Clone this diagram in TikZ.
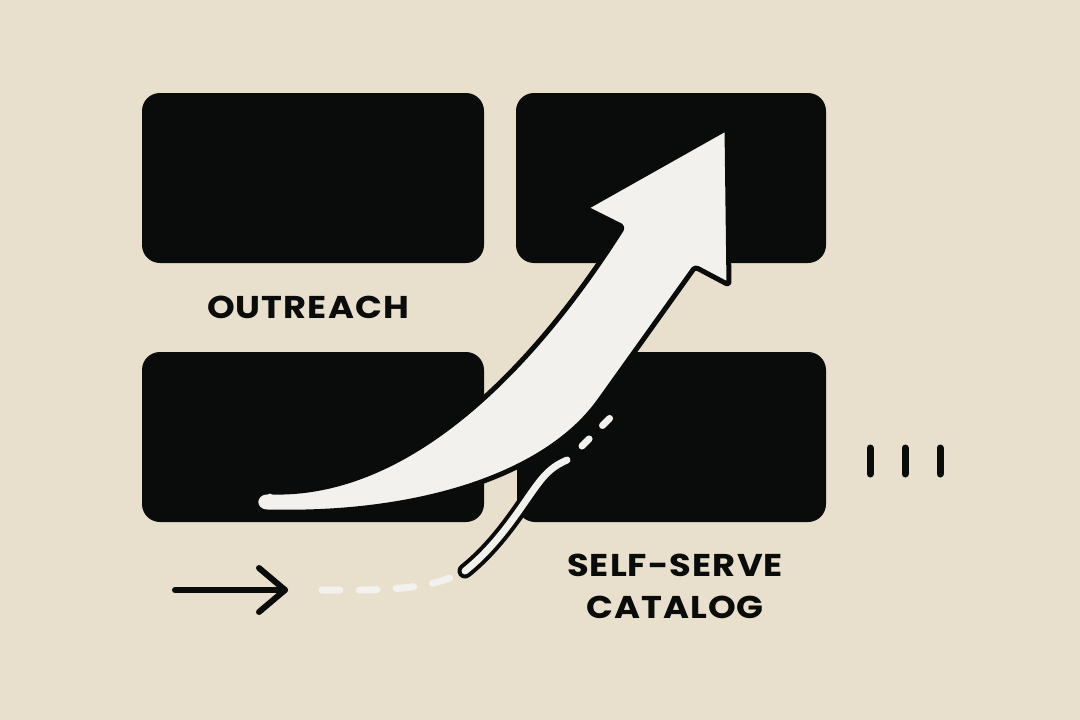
\documentclass[tikz,border=0pt]{standalone}
\usepackage{fontspec}
\setmainfont{Poppins}[FakeStretch=1.12, LetterSpace=3.5]
\usepackage{tikz}

\definecolor{paper}{RGB}{232,223,204}
\definecolor{ink}{RGB}{10,11,11}
\definecolor{chalk}{RGB}{242,241,237}

\begin{document}
\begin{tikzpicture}[
		x=1pt, y=-1pt,
		block/.style = {shape=rectangle, rounded corners=18pt, fill=ink,
				inner sep=0pt, minimum height=170pt},
		wordmark/.style = {font=\fontsize{31.5}{42}\selectfont\bfseries,
				text=ink, align=center, inner sep=0pt},
		inkline/.style = {draw=ink, line width=6pt, line cap=round, line join=round},
		trail/.style = {draw=chalk, line width=7pt, line cap=round}
	]
	\fill[paper] (0,0) rectangle (1080,720);
	\useasboundingbox (0,0) rectangle (1080,720);

	\node[block, minimum width=342pt] (outreachbox) at (313,178) {};
	\node[block, minimum width=310pt] (upperbox) at (671,178) {};
	\node[block, minimum width=342pt] (lowerbox) at (313,437) {};
	\node[block, minimum width=309pt] (catalogbox) at (671.5,437) {};

	\node[wordmark, anchor=base] (outreach) at (308,318) {OUTREACH};
	\node[wordmark] (catalog) at (675,586) {SELF-SERVE\\CATALOG};

	\coordinate (cuestart) at (175,590);
	\coordinate (cuetip) at (285,590);
	\draw[inkline] (cuestart) -- (cuetip);
	\draw[inkline] (cuetip) ++(-26,-22) -- (cuetip) -- ++(-26,22);

	\coordinate (trailstart) at (322,590);
	\coordinate (trailend) at (452,577);
	\draw[trail, dash pattern=on 18pt off 19pt]
		(trailstart) .. controls (390,591) and (425,588) .. (trailend);

	\coordinate (wispstart) at (465,571);
	\coordinate (wispend) at (567,460);
	\draw[draw=ink, line width=4pt, double=chalk, double distance=7pt, line cap=round]
		(wispstart) .. controls (500,543) and (522,505) .. (537,485)
		.. controls (548,470) and (556,465) .. (wispend);
	\draw[trail, dash pattern=on 10pt off 19pt] (582,446) -- (612,416);

	\foreach \x in {870,905,940}
		\draw[inkline, line width=7pt] (\x,448) -- (\x,474);

	\filldraw[fill=chalk, draw=ink, line width=5pt, line join=round, rounded corners=3pt]
		(270,492) .. controls (420,495) and (545,350) .. (623,227)
		-- (585,208) -- (727,128) -- (729,285) -- (695,267)
		-- (600,400) .. controls (545,475) and (420,515) .. (270,512)
		.. controls (252,512) and (252,492) .. (270,492) -- cycle;
\end{tikzpicture}
\end{document}
